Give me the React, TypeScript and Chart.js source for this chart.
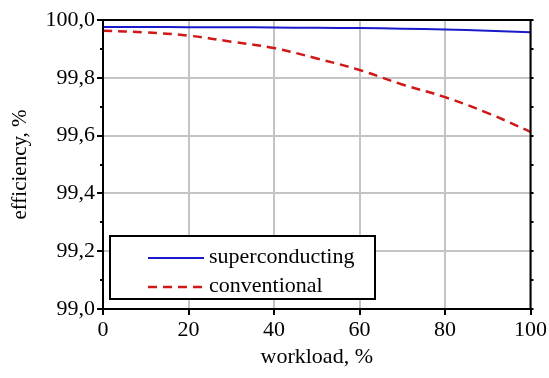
import React, { useEffect, useRef } from "react";
import { Chart, registerables } from "chart.js";

Chart.register(...registerables);

const workload = [0, 10, 20, 30, 40, 50, 60, 70, 80, 90, 100];
const superconducting = [99.976, 99.976, 99.975, 99.975, 99.974, 99.973, 99.972, 99.97, 99.967, 99.963, 99.958];
const conventional = [99.963, 99.957, 99.946, 99.925, 99.903, 99.867, 99.827, 99.777, 99.733, 99.678, 99.613];
const xTicks = [0, 20, 40, 60, 80, 100];
const yMin = 99.0;
const yMax = 100.0;
const seriesNames = ["superconducting", "conventional"];
const xTitle = "workload, %";
const yTitle = "efficiency, %";

const FONT = "'Liberation Serif', 'Times New Roman', serif";

const fmt = (v: number) => v.toFixed(1).replace(".", ",");
const isMajor = (v: number) => Math.round(v * 10) % 2 === 0;

const framePlugin = {
  id: "frameAndLegend",
  afterDatasetsDraw(chart: any) {
    const { ctx, chartArea } = chart;
    const y = chart.scales.y;
    ctx.save();
    ctx.strokeStyle = "#000";
    ctx.lineWidth = 2;
    for (let v = 0; v <= 10; v++) {
      const val = yMin + v * 0.1;
      const py = Math.round(y.getPixelForValue(val));
      if (!isMajor(val)) {
        ctx.beginPath();
        ctx.moveTo(chartArea.left - 3, py);
        ctx.lineTo(chartArea.left, py);
        ctx.stroke();
      }
      ctx.beginPath();
      ctx.moveTo(chartArea.right, py);
      ctx.lineTo(chartArea.right + 3, py);
      ctx.stroke();
    }
    ctx.lineWidth = 2;
    ctx.strokeRect(chartArea.left, chartArea.top, chartArea.right - chartArea.left, chartArea.bottom - chartArea.top);
    const bx = 110, by = 236, bw = 265, bh = 63;
    ctx.fillStyle = "#fff";
    ctx.fillRect(bx, by, bw, bh);
    ctx.strokeRect(bx, by, bw, bh);
    const ds = chart.data.datasets;
    const rows = [258, 287];
    ds.forEach((d: any, i: number) => {
      ctx.beginPath();
      ctx.strokeStyle = d.borderColor;
      ctx.lineWidth = d.borderWidth;
      ctx.setLineDash(d.borderDash || []);
      ctx.moveTo(148, rows[i]);
      ctx.lineTo(204, rows[i]);
      ctx.stroke();
      ctx.setLineDash([]);
      ctx.fillStyle = "#000";
      ctx.font = `22px ${FONT}`;
      ctx.textBaseline = "middle";
      ctx.textAlign = "left";
      ctx.fillText(d.label, 209, rows[i] - 1);
    });
    ctx.restore();
  },
};

export default function App() {
  const ref = useRef<HTMLCanvasElement | null>(null);
  useEffect(() => {
    if (!ref.current) return;
    const chart = new Chart(ref.current, {
      type: "line",
      data: {
        labels: workload,
        datasets: [
          {
            label: seriesNames[0],
            data: workload.map((x, i) => ({ x, y: superconducting[i] })),
            borderColor: "#1a1acc",
            borderWidth: 2,
            pointRadius: 0,
            tension: 0.4,
            fill: false,
          },
          {
            label: seriesNames[1],
            data: workload.map((x, i) => ({ x, y: conventional[i] })),
            borderColor: "#d01818",
            borderWidth: 2.5,
            borderDash: [9, 6],
            pointRadius: 0,
            tension: 0.4,
            fill: false,
          },
        ],
      },
      options: {
        animation: false,
        responsive: false,
        layout: { padding: { top: 20, right: 18, left: 0, bottom: 0 } },
        plugins: { legend: { display: false }, tooltip: { enabled: false } },
        scales: {
          x: {
            type: "linear",
            min: 0,
            max: 100,
            afterBuildTicks: (s: any) => {
              s.ticks = xTicks.map((v) => ({ value: v }));
            },
            afterFit: (s: any) => {
              s.height = 69;
            },
            ticks: {
              color: "#000",
              font: { family: FONT, size: 22 },
              padding: 2,
              maxRotation: 0,
              callback: (v: any) => String(v),
            },
            grid: { color: "#c4c4c4", lineWidth: 2, tickColor: "#000", tickLength: 6, drawTicks: true },
            border: { color: "#000", width: 2 },
            title: {
              display: true,
              text: xTitle,
              color: "#000",
              font: { family: FONT, size: 22 },
              padding: { top: 0, bottom: 8 },
            },
          },
          y: {
            min: yMin,
            max: yMax,
            afterBuildTicks: (s: any) => {
              const t = [];
              for (let i = 0; i <= 10; i++) t.push({ value: Math.round((yMin + i * 0.1) * 10) / 10 });
              s.ticks = t;
            },
            afterFit: (s: any) => {
              s.width = 103;
            },
            ticks: {
              color: "#000",
              font: { family: FONT, size: 22 },
              padding: 2,
              callback: (v: any) => (isMajor(Number(v)) ? fmt(Number(v)) : ""),
            },
            grid: {
              color: (c: any) => (c.tick && isMajor(c.tick.value) ? "#c4c4c4" : "rgba(0,0,0,0)"),
              tickColor: (c: any) => (c.tick && isMajor(c.tick.value) ? "#000" : "rgba(0,0,0,0)"),
              lineWidth: 2,
              tickLength: 6,
            },
            border: { color: "#000", width: 2 },
            title: {
              display: true,
              text: yTitle,
              color: "#000",
              font: { family: FONT, size: 21 },
              padding: { top: 8, bottom: 0 },
            },
          },
        },
      },
      plugins: [framePlugin],
    });
    return () => chart.destroy();
  }, []);
  return (
    <div style={{ position: "absolute", left: 0, top: 0, width: 549, height: 378, background: "#fff" }}>
      <canvas ref={ref} width={549} height={378} style={{ display: "block" }} />
    </div>
  );
}
